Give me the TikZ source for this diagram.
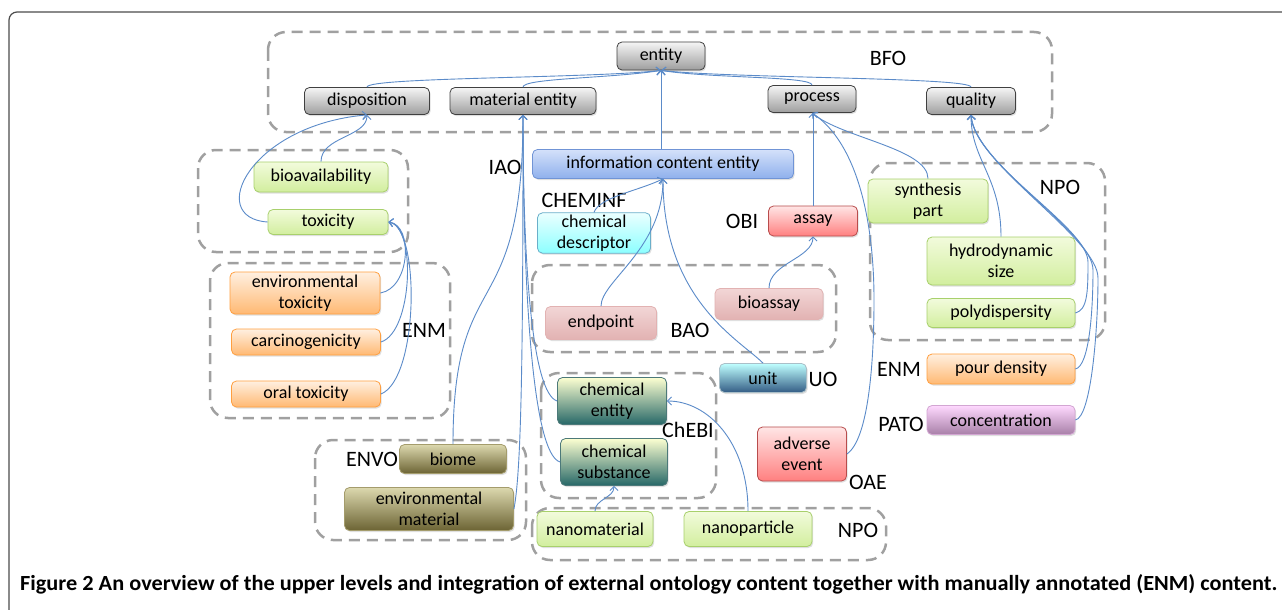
\documentclass[tikz,border=0pt]{standalone}
\usepackage{fontspec}
\usepackage{graphicx}
\setmainfont{Carlito}
\usetikzlibrary{arrows.meta,shadows}

\definecolor{linkblue}{HTML}{5B8BC9}
\definecolor{grpgray}{HTML}{A0A0A0}
\definecolor{greentop}{HTML}{F2FBDC}
\definecolor{greenbot}{HTML}{D2EE9E}
\definecolor{greenline}{HTML}{A8D06C}
\definecolor{icetop}{HTML}{D4E1FA}
\definecolor{icebot}{HTML}{8FB0EC}
\definecolor{iceline}{HTML}{7094D6}
\definecolor{olivetop}{HTML}{DCD8AE}
\definecolor{olivebot}{HTML}{6C6434}
\definecolor{oliveline}{HTML}{A49C6C}
\definecolor{pinktop}{HTML}{F2D6D6}
\definecolor{pinkbot}{HTML}{E2B2B2}

\tikzset{
  onto/.style={rounded corners=5pt, draw, line width=0.8pt, align=center,
    inner sep=2pt, font=\fontsize{18}{21}\selectfont, minimum height=28pt,
    drop shadow={opacity=0.25, shadow xshift=1.2pt, shadow yshift=-1.5pt}},
  bfobox/.style={onto, draw=black!75, top color=black!4, bottom color=black!38},
  greenbox/.style={onto, draw=greenline, top color=greentop, bottom color=greenbot},
  orangebox/.style={onto, draw=orange!75, top color=orange!12, bottom color=orange!55},
  icebox/.style={onto, draw=iceline, top color=icetop, bottom color=icebot},
  cyanbox/.style={onto, draw=cyan!70!black!70, top color=cyan!8, bottom color=cyan!45},
  pinkbox/.style={onto, draw=pinkbot, top color=pinktop, bottom color=pinkbot},
  redbox/.style={onto, draw=red!60!black!70, top color=red!10, bottom color=red!50},
  unitbox/.style={onto, draw=cyan!40!black!40, top color=cyan!25, bottom color=blue!50!cyan!40!black!80},
  chebibox/.style={onto, draw=teal!50!black!70, top color=green!6!yellow!18, bottom color=teal!60!black!85},
  olivebox/.style={onto, draw=oliveline, top color=olivetop, bottom color=olivebot},
  purplebox/.style={onto, draw=violet!35, top color=magenta!15, bottom color=violet!45!magenta!40!black!50},
  grp/.style={draw=grpgray, line width=2.5pt, dash pattern=on 11pt off 7pt, rounded corners=18pt},
  grplabel/.style={font=\fontsize{22}{24}\selectfont, inner sep=0pt},
  link/.style={draw=linkblue, line width=0.9pt, -{Straight Barb[length=4pt,width=8pt]}},
}

\begin{document}
\begin{tikzpicture}[x=1pt, y=-1pt]
  \useasboundingbox (0,0) rectangle (1282,610);
  \fill[white] (0,0) rectangle (1282,610);
  \draw[black!70, line width=1.2pt, rounded corners=8pt] (9,620) -- (9,12) -- (1290,12);

  % ontology groups
  \draw[grp] (268,32) rectangle (1052,132);
  \draw[grp] (198,150) rectangle (408,252);
  \draw[grp] (210,263) rectangle (450,418);
  \draw[grp] (532,265) rectangle (836,352);
  \draw[grp] (541,373) rectangle (716,498);
  \draw[grp] (315,440) rectangle (526,540);
  \draw[grp] (532,508) rectangle (886,560);
  \draw[grp] (870,163) rectangle (1105,340);

  % BFO
  \node[bfobox, minimum width=88pt] (entity) at (661,56) {entity};
  \node[bfobox, minimum width=125pt, minimum height=27pt] (disp) at (367,101) {disposition};
  \node[bfobox, minimum width=146pt, minimum height=27pt] (matent) at (523,101) {material entity};
  \node[bfobox, minimum width=88pt, minimum height=27pt] (proc) at (812,99) {process};
  \node[bfobox, minimum width=89pt, minimum height=27pt] (qual) at (971,101) {quality};
  \node[grplabel] (bfo) at (888,58) {BFO};

  % dispositions
  \node[greenbox, minimum width=134pt, minimum height=30pt] (bioav) at (321,177) {bioavailability};
  \node[greenbox, minimum width=120pt, minimum height=25pt] (tox) at (328,222) {toxicity};
  \node[orangebox, minimum width=150pt, minimum height=42pt] (envtox) at (305,293) {environmental\\toxicity};
  \node[orangebox, minimum width=149pt, minimum height=26pt] (carc) at (306,342) {carcinogenicity};
  \node[orangebox, minimum width=149pt, minimum height=26pt] (oraltox) at (306,394) {oral toxicity};
  \node[grplabel] (enmleft) at (424,330) {ENM};

  % information content
  \node[grplabel] (iao) at (505,167) {IAO};
  \node[icebox, minimum width=261pt, minimum height=29pt] (ice) at (663,164) {information content entity};
  \node[grplabel] (cheminf) at (584,200) {CHEMINF};
  \node[cyanbox, minimum width=113pt, minimum height=39pt] (chemdesc) at (594,233) {chemical\\descriptor};
  \node[pinkbox, minimum width=111pt, minimum height=33pt] (endpoint) at (601,323) {endpoint};
  \node[pinkbox, minimum width=108pt, minimum height=31pt] (bioassay) at (769,304) {bioassay};
  \node[grplabel] (bao) at (690,330) {BAO};
  \node[grplabel] (obi) at (742,221) {OBI};
  \node[redbox, minimum width=89pt, minimum height=30pt] (assay) at (813,221) {assay};
  \node[unitbox, minimum width=87pt, minimum height=29pt] (unit) at (763,378) {unit};
  \node[grplabel] (uo) at (823,379) {UO};

  % chemicals and environment
  \node[chebibox, minimum width=109pt, minimum height=47pt] (chement) at (612,401) {chemical\\entity};
  \node[chebibox, minimum width=107pt, minimum height=47pt] (chemsub) at (614,462) {chemical\\substance};
  \node[grplabel] (chebi) at (688,430) {ChEBI};
  \node[grplabel] (envo) at (372,459) {ENVO};
  \node[olivebox, minimum width=107pt, minimum height=29pt] (biome) at (453,459) {biome};
  \node[olivebox, minimum width=169pt, minimum height=43pt] (envmat) at (429,509) {environmental\\material};
  \node[greenbox, minimum width=116pt, minimum height=35pt] (nanomat) at (595,529) {nanomaterial};
  \node[greenbox, minimum width=128pt, minimum height=35pt] (nanopart) at (748,529) {nanoparticle};
  \node[grplabel] (npobottom) at (858,530) {NPO};
  \node[redbox, minimum width=89pt, minimum height=54pt] (adverse) at (802,454) {adverse\\event};
  \node[grplabel] (oae) at (868,482) {OAE};

  % qualities
  \node[greenbox, minimum width=120pt, minimum height=44pt] (synth) at (928,201) {synthesis\\part};
  \node[greenbox, minimum width=148pt, minimum height=48pt] (hydro) at (1001,261) {hydrodynamic\\size};
  \node[greenbox, minimum width=148pt, minimum height=29pt] (polyd) at (1001,313) {polydispersity};
  \node[grplabel] (nporight) at (1060,187) {NPO};
  \node[grplabel] (enmright) at (899,369) {ENM};
  \node[orangebox, minimum width=148pt, minimum height=30pt] (pour) at (1001,369) {pour density};
  \node[grplabel] (pato) at (901,424) {PATO};
  \node[purplebox, minimum width=148pt, minimum height=29pt] (conc) at (1001,420) {concentration};

  % is-a links
  \draw[link] (disp.north) .. controls +(0,-10) and +(-70,8) .. (entity.south);
  \draw[link] (matent.north) .. controls +(0,-9) and +(-50,8) .. (entity.south);
  \draw[link] (proc.north) .. controls +(0,-9) and +(50,8) .. (entity.south);
  \draw[link] (qual.north) .. controls +(0,-10) and +(70,8) .. (entity.south);
  \draw[link] (ice.north -| entity.south) -- (entity.south);

  \draw[link] (bioav.north) .. controls +(0,-25) and +(0,22) .. (disp.south);
  \draw[link] (tox.west) .. controls (205,218) and (250,125) .. (disp.south);
  \draw[link] (envtox.east) .. controls +(30,-5) and +(25,3) .. (tox.east);
  \draw[link] (carc.east) .. controls +(32,-10) and +(28,4) .. (tox.east);
  \draw[link] (oraltox.east) .. controls +(38,-15) and +(32,5) .. (tox.east);

  \draw[link] (biome.north) .. controls +(0,-185) and +(0,215) .. (matent.south);
  \draw[link] (envmat.east) .. controls +(8,-40) and +(0,220) .. (matent.south);
  \draw[link] (chement.west) .. controls +(-25,-8) and +(0,150) .. (matent.south);
  \draw[link] (chemsub.west) .. controls +(-28,-8) and +(0,170) .. (matent.south);

  \draw[link] (chemdesc.north) .. controls +(5,-15) and +(-25,12) .. (ice.south);
  \draw[link] (endpoint.north) .. controls +(0,-25) and +(0,70) .. (ice.south);
  \draw[link] (unit.north) .. controls +(-23,-23) and +(0,121) .. (ice.south);

  \draw[link] (assay.north) -- (assay.north |- proc.south);
  \draw[link] (bioassay.north) .. controls +(0,-25) and +(0,22) .. (assay.south);
  \draw[link] (adverse.east) .. controls +(22,-15) and +(0,60) .. (874,300)
    .. controls +(0,-80) and +(45,30) .. (proc.south);
  \draw[link] (synth.north) .. controls +(0,-30) and +(30,25) .. (proc.south);

  \draw[link] (hydro.north) .. controls +(0,-60) and +(0,45) .. (qual.south);
  \draw[link] (polyd.east) .. controls +(12,-3) and +(0,30) .. (1088,262)
    .. controls +(0,-35) and +(4,50) .. (qual.south);
  \draw[link] (pour.east) .. controls +(14,-3) and +(0,40) .. (1093,270)
    .. controls +(0,-38) and +(4,50) .. (qual.south);
  \draw[link] (conc.east) .. controls +(16,-3) and +(0,50) .. (1098,278)
    .. controls +(0,-40) and +(4,50) .. (qual.south);

  \draw[link] (nanomat.north) .. controls +(0,-12) and +(0,12) .. (chemsub.south);
  \draw[link] (nanopart.north) .. controls +(0,-70) and +(40,0) .. (chement.east);

  % caption
  \node[inner sep=0pt, anchor=base west] (caption) at (20,590)
    {\resizebox{1257pt}{16pt}{\bfseries Figure 2 An overview of the upper levels and integration of external ontology content together with manually annotated (ENM) content.}};
\end{tikzpicture}
\end{document}
